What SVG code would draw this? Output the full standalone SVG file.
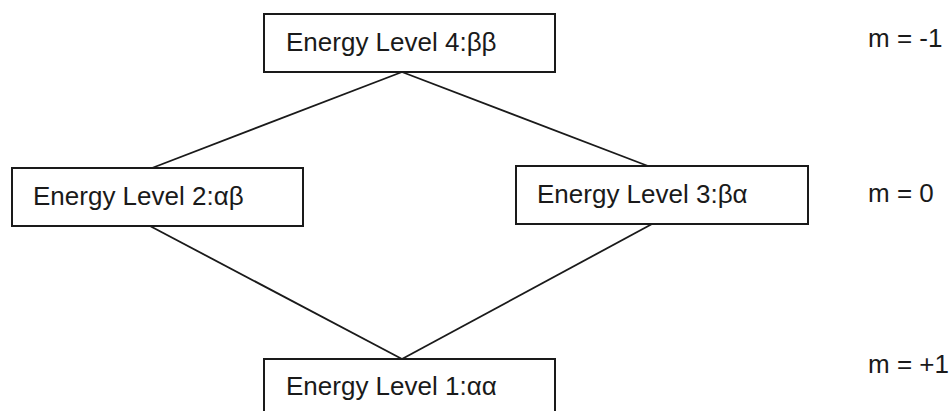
<svg xmlns="http://www.w3.org/2000/svg" width="951" height="411" viewBox="0 0 951 411">
  <style>
    .box { fill: #ffffff; stroke: #1a1a1a; stroke-width: 2; }
    .lbl { font-family: "Liberation Sans", Arial, sans-serif; font-size: 26px; fill: #1a1a1a; }
    .conn { stroke: #1a1a1a; stroke-width: 1.8; fill: none; }
  </style>
  <rect x="0" y="0" width="951" height="411" fill="#ffffff"/>
  <g id="connectors">
    <line class="conn" x1="402" y1="72" x2="152" y2="168"/>
    <line class="conn" x1="402" y1="72" x2="648" y2="166"/>
    <line class="conn" x1="150" y1="226" x2="402" y2="359"/>
    <line class="conn" x1="652" y1="224" x2="402" y2="359"/>
  </g>
  <g id="level4">
    <rect class="box" x="264" y="14" width="291" height="58"/>
    <text class="lbl" x="286" y="51">Energy Level 4:ββ</text>
  </g>
  <g id="level2">
    <rect class="box" x="12" y="168" width="291" height="58"/>
    <text class="lbl" x="33" y="205">Energy Level 2:αβ</text>
  </g>
  <g id="level3">
    <rect class="box" x="516" y="166" width="292" height="58"/>
    <text class="lbl" x="537" y="203">Energy Level 3:βα</text>
  </g>
  <g id="level1">
    <rect class="box" x="264" y="359" width="291" height="60"/>
    <text class="lbl" x="286" y="395">Energy Level 1:αα</text>
  </g>
  <g id="m-labels">
    <text class="lbl" x="868" y="47">m = -1</text>
    <text class="lbl" x="868" y="202">m = 0</text>
    <text class="lbl" x="868" y="373">m = +1</text>
  </g>
</svg>
